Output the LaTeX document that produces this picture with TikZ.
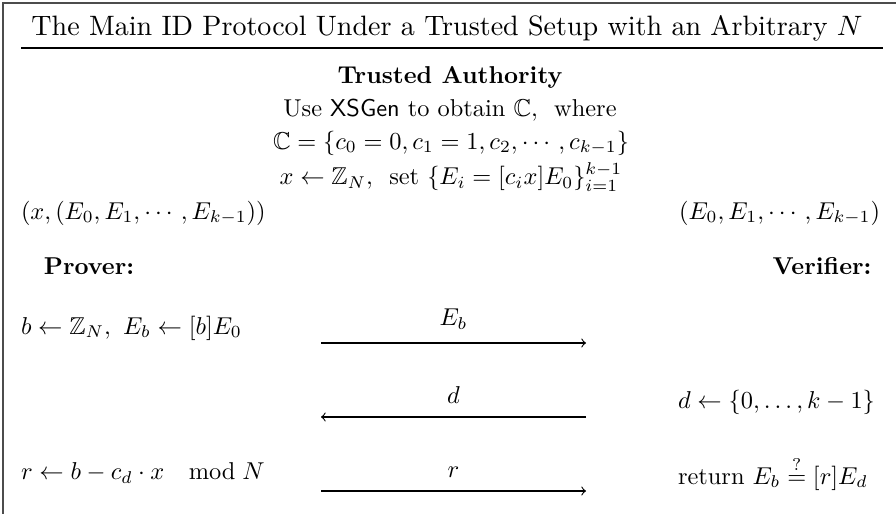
\documentclass[tikz,border=0pt]{standalone}
\usepackage{amsmath,amssymb}
\begin{document}
\begin{tikzpicture}[x=0.41pt,y=-0.41pt,
  frameline/.style={draw=black!70,line width=0.8pt},
  txt/.style={inner sep=0pt,outer sep=0pt},
  titletxt/.style={txt,scale=1.15},
  msg/.style={->,line width=0.45pt},
  lbl/.style={above=5.5pt,inner sep=0pt}]
\useasboundingbox (0,0) rectangle (896,514);
% frame (top and left sides)
\coordinate (fA) at (3,514);
\coordinate (fB) at (3,3);
\coordinate (fC) at (896,3);
\draw[frameline] (fA) -- (fB) -- (fC);
% title
\node[titletxt] (title) at (447,28) {The Main ID Protocol Under a Trusted Setup with an Arbitrary $N$};
\coordinate (rL) at (21,48);
\coordinate (rR) at (883,48);
\draw[line width=0.45pt] (rL) -- (rR);
% trusted authority
\node[txt] (ta) at (450,77) {\textbf{Trusted Authority}};
\node[txt] (use) at (450,110) {Use $\mathsf{XSGen}$ to obtain $\mathbb{C},\ $ where};
\node[txt] (cset) at (451,143) {$\mathbb{C}=\{c_0=0,c_1=1,c_2,\cdots,c_{k-1}\}$};
\node[txt] (xset) at (451,177) {$x\leftarrow\mathbb{Z}_N,\ $ set $\{E_i=[c_ix]E_0\}_{i=1}^{k-1}$};
% keys
\node[txt,anchor=west] (ptup) at (21,213) {$(x,(E_0,E_1,\cdots,E_{k-1}))$};
\node[txt,anchor=east] (vtup) at (880,213) {$(E_0,E_1,\cdots,E_{k-1})$};
\node[txt] (prover) at (89,266) {\textbf{Prover:}};
\node[txt] (verifier) at (822,266) {\textbf{Verifier:}};
% rows
\node[txt,anchor=west] (p1) at (21,328) {$b\leftarrow\mathbb{Z}_N,\ E_b\leftarrow[b]E_0$};
\node[txt,anchor=west] (v2) at (678,402) {$d\leftarrow\{0,\dots,k-1\}$};
\node[txt,anchor=west] (p3) at (21,473) {$r\leftarrow b-c_d\cdot x\mkern18mu\mathrm{mod}\mkern5mu N$};
\node[txt,anchor=west] (v3) at (678,473) {return $E_b\stackrel{?}{=}[r]E_d$};
% messages
\coordinate (m1L) at (321,343);
\coordinate (m1R) at (586,343);
\coordinate (m2L) at (321,417);
\coordinate (m2R) at (586,417);
\coordinate (m3L) at (321,491);
\coordinate (m3R) at (586,491);
\draw[msg] (m1L) -- node[lbl] (l1) {$E_b$} (m1R);
\draw[msg] (m2R) -- node[lbl] (l2) {$d$} (m2L);
\draw[msg] (m3L) -- node[lbl] (l3) {$r$} (m3R);
\end{tikzpicture}
\end{document}
